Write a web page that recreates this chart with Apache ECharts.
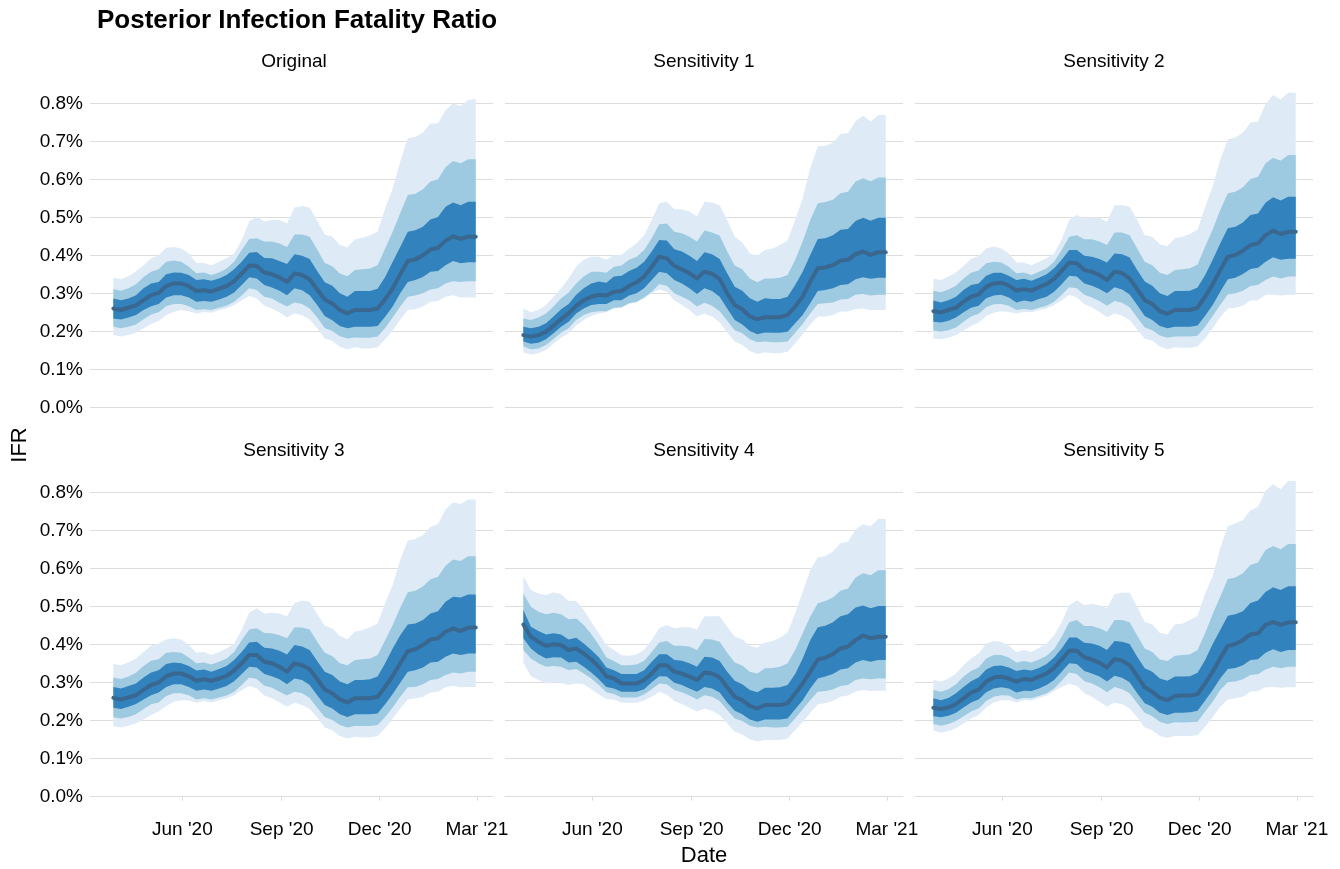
<!DOCTYPE html>
<html>
<head>
<meta charset="utf-8">
<title>Posterior Infection Fatality Ratio</title>
<script src="https://cdn.jsdelivr.net/npm/echarts@6.0.0/dist/echarts.min.js"></script>
<style>
  html, body { margin: 0; padding: 0; background: #fff; }
  #chart { width: 1340px; height: 869px; }
</style>
</head>
<body>
<div id="chart"></div>
<script>
// weekly estimate dates
const weeks = [
  '2020-03-29', '2020-04-05', '2020-04-12', '2020-04-19', '2020-04-26',
  '2020-05-03', '2020-05-10', '2020-05-17', '2020-05-24', '2020-05-31',
  '2020-06-07', '2020-06-14', '2020-06-21', '2020-06-28',
  '2020-07-05', '2020-07-12', '2020-07-19', '2020-07-26',
  '2020-08-02', '2020-08-09', '2020-08-16', '2020-08-23', '2020-08-30',
  '2020-09-06', '2020-09-13', '2020-09-20', '2020-09-27',
  '2020-10-04', '2020-10-11', '2020-10-18', '2020-10-25',
  '2020-11-01', '2020-11-08', '2020-11-15', '2020-11-22', '2020-11-29',
  '2020-12-06', '2020-12-13', '2020-12-20', '2020-12-27',
  '2021-01-03', '2021-01-10', '2021-01-17', '2021-01-24', '2021-01-31',
  '2021-02-07', '2021-02-14', '2021-02-21', '2021-02-28'
];
const tickDates = ['2020-06-01', '2020-09-01', '2020-12-01', '2021-03-01'];
const panelTitles = ['Original', 'Sensitivity 1', 'Sensitivity 2', 'Sensitivity 3', 'Sensitivity 4', 'Sensitivity 5'];

// IFR in percent
const origMed  = [0.260,0.256,0.262,0.268,0.282,0.295,0.301,0.319,0.326,0.326,0.319,0.306,0.308,0.305,0.312,0.319,0.332,0.352,0.373,0.372,0.355,0.350,0.342,0.330,0.352,0.348,0.337,0.310,0.284,0.273,0.256,0.247,0.256,0.256,0.256,0.260,0.284,0.313,0.350,0.385,0.389,0.400,0.415,0.420,0.438,0.450,0.443,0.449,0.449];
const origHi50 = [0.286,0.282,0.286,0.295,0.313,0.326,0.330,0.350,0.355,0.354,0.348,0.335,0.337,0.333,0.339,0.348,0.363,0.383,0.407,0.409,0.393,0.392,0.385,0.377,0.403,0.399,0.390,0.359,0.329,0.320,0.300,0.291,0.306,0.306,0.306,0.312,0.343,0.383,0.422,0.462,0.466,0.475,0.494,0.501,0.528,0.539,0.532,0.541,0.541];
const origLo50 = [0.234,0.231,0.236,0.243,0.256,0.266,0.272,0.289,0.295,0.295,0.289,0.278,0.280,0.278,0.284,0.291,0.302,0.322,0.342,0.339,0.322,0.315,0.307,0.295,0.313,0.308,0.295,0.269,0.240,0.229,0.214,0.208,0.212,0.212,0.212,0.214,0.238,0.265,0.300,0.330,0.335,0.343,0.357,0.359,0.374,0.385,0.379,0.382,0.382];
const origHi80 = [0.311,0.307,0.313,0.324,0.343,0.357,0.363,0.383,0.386,0.383,0.370,0.353,0.355,0.348,0.355,0.365,0.383,0.414,0.443,0.445,0.436,0.436,0.431,0.422,0.455,0.455,0.449,0.415,0.380,0.371,0.352,0.345,0.361,0.363,0.365,0.374,0.418,0.462,0.511,0.559,0.562,0.574,0.594,0.600,0.632,0.648,0.642,0.653,0.653];
const origLo80 = [0.212,0.208,0.212,0.218,0.232,0.244,0.250,0.266,0.272,0.272,0.266,0.256,0.258,0.256,0.262,0.267,0.278,0.294,0.313,0.309,0.291,0.286,0.275,0.265,0.276,0.272,0.260,0.236,0.209,0.201,0.187,0.181,0.184,0.183,0.183,0.186,0.209,0.236,0.265,0.291,0.294,0.300,0.310,0.313,0.326,0.332,0.330,0.332,0.332];
const origHi95 = [0.341,0.337,0.345,0.358,0.374,0.392,0.400,0.420,0.422,0.418,0.405,0.380,0.380,0.374,0.383,0.392,0.405,0.440,0.489,0.502,0.489,0.493,0.493,0.484,0.526,0.530,0.526,0.490,0.455,0.449,0.427,0.421,0.442,0.446,0.453,0.462,0.523,0.576,0.646,0.708,0.711,0.723,0.747,0.747,0.782,0.800,0.793,0.809,0.811];
const origLo95 = [0.190,0.186,0.190,0.196,0.208,0.219,0.227,0.243,0.251,0.256,0.253,0.247,0.251,0.249,0.256,0.260,0.269,0.282,0.293,0.286,0.267,0.260,0.250,0.236,0.247,0.242,0.231,0.208,0.181,0.175,0.159,0.153,0.158,0.155,0.155,0.158,0.179,0.203,0.231,0.256,0.258,0.265,0.278,0.280,0.291,0.295,0.289,0.289,0.289];

const s1Med  = [0.190,0.186,0.190,0.199,0.215,0.232,0.247,0.267,0.282,0.291,0.296,0.294,0.304,0.306,0.319,0.329,0.344,0.370,0.396,0.392,0.372,0.363,0.353,0.339,0.357,0.351,0.338,0.300,0.269,0.258,0.239,0.232,0.237,0.237,0.237,0.243,0.265,0.291,0.331,0.366,0.368,0.374,0.386,0.388,0.403,0.410,0.401,0.408,0.408];
const s1Hi50 = [0.212,0.208,0.212,0.221,0.239,0.258,0.272,0.296,0.313,0.326,0.331,0.328,0.344,0.346,0.359,0.367,0.383,0.410,0.440,0.439,0.416,0.410,0.399,0.385,0.408,0.403,0.390,0.353,0.317,0.307,0.287,0.278,0.287,0.285,0.285,0.291,0.322,0.357,0.401,0.443,0.445,0.453,0.467,0.469,0.490,0.499,0.491,0.499,0.499];
const s1Lo50 = [0.173,0.167,0.170,0.179,0.195,0.212,0.225,0.247,0.260,0.269,0.272,0.272,0.282,0.282,0.294,0.300,0.313,0.335,0.357,0.353,0.335,0.326,0.313,0.298,0.313,0.306,0.291,0.260,0.230,0.218,0.201,0.192,0.197,0.196,0.196,0.199,0.221,0.243,0.274,0.306,0.309,0.313,0.322,0.324,0.337,0.342,0.338,0.341,0.341];
const s1Hi80 = [0.234,0.230,0.236,0.247,0.265,0.287,0.302,0.326,0.344,0.357,0.357,0.354,0.370,0.373,0.388,0.396,0.414,0.445,0.482,0.484,0.462,0.458,0.449,0.436,0.465,0.460,0.452,0.410,0.373,0.363,0.339,0.329,0.339,0.339,0.341,0.348,0.388,0.436,0.493,0.537,0.540,0.546,0.563,0.567,0.594,0.603,0.595,0.605,0.605];
const s1Lo80 = [0.160,0.153,0.155,0.164,0.180,0.196,0.208,0.230,0.243,0.250,0.253,0.253,0.262,0.263,0.274,0.278,0.289,0.304,0.324,0.320,0.300,0.291,0.281,0.265,0.275,0.267,0.253,0.228,0.203,0.195,0.179,0.171,0.173,0.171,0.171,0.173,0.196,0.219,0.247,0.272,0.274,0.276,0.284,0.285,0.296,0.298,0.294,0.296,0.296];
const s1Hi95 = [0.260,0.250,0.256,0.269,0.291,0.313,0.339,0.370,0.388,0.396,0.396,0.388,0.401,0.401,0.417,0.431,0.453,0.493,0.537,0.541,0.521,0.521,0.515,0.502,0.541,0.539,0.532,0.493,0.449,0.434,0.405,0.399,0.414,0.418,0.427,0.439,0.493,0.550,0.629,0.686,0.688,0.696,0.719,0.721,0.753,0.767,0.752,0.769,0.769];
const s1Lo95 = [0.144,0.139,0.142,0.151,0.167,0.183,0.195,0.215,0.230,0.240,0.247,0.250,0.260,0.262,0.272,0.276,0.287,0.300,0.310,0.304,0.281,0.269,0.256,0.239,0.247,0.239,0.224,0.197,0.173,0.164,0.148,0.140,0.145,0.142,0.142,0.146,0.168,0.192,0.218,0.239,0.239,0.243,0.252,0.252,0.259,0.260,0.256,0.256,0.256];

const s2Med  = [0.253,0.250,0.256,0.262,0.278,0.291,0.297,0.317,0.326,0.328,0.320,0.307,0.311,0.307,0.316,0.324,0.338,0.359,0.381,0.379,0.361,0.357,0.348,0.335,0.357,0.353,0.339,0.311,0.282,0.272,0.253,0.246,0.256,0.256,0.256,0.262,0.291,0.324,0.361,0.396,0.401,0.412,0.427,0.431,0.453,0.465,0.456,0.462,0.462];
const s2Hi50 = [0.281,0.276,0.282,0.291,0.309,0.322,0.326,0.346,0.354,0.354,0.346,0.335,0.338,0.333,0.341,0.350,0.366,0.388,0.414,0.414,0.399,0.396,0.390,0.381,0.405,0.403,0.394,0.361,0.331,0.320,0.300,0.293,0.306,0.306,0.307,0.315,0.348,0.388,0.431,0.471,0.475,0.486,0.506,0.510,0.538,0.553,0.544,0.554,0.554];
const s2Lo50 = [0.225,0.223,0.228,0.236,0.250,0.262,0.267,0.287,0.294,0.296,0.289,0.276,0.281,0.278,0.285,0.291,0.304,0.324,0.346,0.344,0.326,0.320,0.311,0.300,0.316,0.310,0.297,0.269,0.240,0.230,0.214,0.208,0.212,0.212,0.212,0.215,0.241,0.269,0.304,0.337,0.341,0.351,0.364,0.367,0.383,0.395,0.388,0.391,0.391];
const s2Hi80 = [0.307,0.303,0.310,0.320,0.339,0.354,0.360,0.379,0.383,0.381,0.370,0.353,0.355,0.348,0.357,0.366,0.383,0.414,0.449,0.453,0.442,0.442,0.436,0.427,0.460,0.460,0.453,0.418,0.383,0.374,0.354,0.348,0.361,0.363,0.366,0.376,0.423,0.468,0.519,0.563,0.567,0.579,0.601,0.607,0.642,0.657,0.649,0.664,0.664];
const s2Lo80 = [0.202,0.199,0.203,0.210,0.225,0.239,0.246,0.263,0.271,0.272,0.267,0.256,0.259,0.256,0.262,0.267,0.278,0.296,0.316,0.313,0.296,0.289,0.280,0.267,0.280,0.275,0.263,0.236,0.210,0.203,0.189,0.183,0.186,0.186,0.186,0.188,0.212,0.240,0.269,0.297,0.300,0.307,0.319,0.322,0.335,0.344,0.339,0.344,0.344];
const s2Hi95 = [0.338,0.335,0.344,0.355,0.372,0.390,0.399,0.418,0.423,0.418,0.405,0.381,0.381,0.374,0.383,0.392,0.405,0.442,0.493,0.506,0.497,0.500,0.499,0.488,0.532,0.532,0.528,0.493,0.453,0.449,0.429,0.424,0.445,0.449,0.456,0.468,0.528,0.581,0.651,0.705,0.710,0.723,0.749,0.752,0.798,0.822,0.810,0.828,0.828];
const s2Lo95 = [0.181,0.179,0.183,0.190,0.202,0.214,0.223,0.240,0.249,0.253,0.251,0.247,0.251,0.250,0.256,0.260,0.269,0.282,0.296,0.289,0.271,0.263,0.251,0.237,0.247,0.241,0.230,0.205,0.181,0.175,0.160,0.153,0.158,0.157,0.157,0.160,0.181,0.208,0.237,0.260,0.262,0.267,0.281,0.282,0.296,0.296,0.294,0.296,0.296];

const s3Med  = [0.260,0.256,0.261,0.267,0.281,0.294,0.300,0.317,0.324,0.324,0.317,0.305,0.309,0.305,0.311,0.318,0.332,0.351,0.373,0.373,0.355,0.351,0.342,0.329,0.351,0.346,0.336,0.309,0.282,0.272,0.256,0.248,0.259,0.259,0.259,0.263,0.289,0.318,0.351,0.383,0.388,0.399,0.414,0.417,0.434,0.443,0.436,0.445,0.445];
const s3Hi50 = [0.289,0.285,0.291,0.298,0.314,0.327,0.333,0.349,0.353,0.351,0.344,0.332,0.335,0.329,0.336,0.344,0.360,0.381,0.406,0.408,0.392,0.390,0.384,0.374,0.399,0.395,0.386,0.357,0.329,0.320,0.303,0.296,0.307,0.307,0.309,0.316,0.351,0.390,0.425,0.453,0.456,0.465,0.482,0.488,0.513,0.526,0.524,0.532,0.532];
const s3Lo50 = [0.234,0.231,0.237,0.244,0.256,0.267,0.274,0.289,0.296,0.296,0.289,0.279,0.282,0.279,0.285,0.291,0.304,0.323,0.342,0.340,0.323,0.317,0.309,0.296,0.311,0.307,0.294,0.267,0.241,0.232,0.217,0.210,0.217,0.217,0.217,0.219,0.243,0.270,0.300,0.329,0.333,0.340,0.353,0.355,0.368,0.377,0.373,0.377,0.377];
const s3Hi80 = [0.314,0.310,0.316,0.326,0.344,0.358,0.362,0.379,0.381,0.379,0.366,0.351,0.353,0.348,0.355,0.364,0.381,0.412,0.440,0.443,0.431,0.430,0.425,0.417,0.446,0.445,0.440,0.408,0.379,0.370,0.351,0.346,0.360,0.362,0.364,0.373,0.412,0.452,0.497,0.538,0.542,0.553,0.572,0.579,0.608,0.624,0.620,0.633,0.633];
const s3Lo80 = [0.209,0.206,0.210,0.217,0.231,0.243,0.248,0.265,0.272,0.272,0.267,0.256,0.259,0.256,0.261,0.266,0.276,0.294,0.314,0.310,0.292,0.287,0.276,0.266,0.276,0.272,0.260,0.234,0.210,0.202,0.189,0.182,0.186,0.186,0.186,0.189,0.210,0.235,0.263,0.288,0.289,0.296,0.307,0.310,0.320,0.327,0.324,0.329,0.329];
const s3Hi95 = [0.349,0.346,0.353,0.364,0.381,0.397,0.403,0.414,0.417,0.414,0.399,0.379,0.381,0.373,0.381,0.390,0.403,0.439,0.484,0.496,0.482,0.484,0.482,0.475,0.510,0.516,0.513,0.481,0.450,0.443,0.423,0.415,0.434,0.439,0.446,0.456,0.509,0.557,0.623,0.674,0.678,0.688,0.710,0.717,0.756,0.774,0.770,0.782,0.782];
const s3Lo95 = [0.186,0.182,0.187,0.193,0.203,0.215,0.224,0.239,0.250,0.254,0.253,0.247,0.252,0.248,0.254,0.259,0.267,0.281,0.291,0.285,0.266,0.259,0.248,0.237,0.247,0.241,0.231,0.209,0.182,0.175,0.160,0.153,0.158,0.156,0.156,0.160,0.180,0.206,0.232,0.256,0.259,0.263,0.274,0.276,0.288,0.292,0.288,0.289,0.289];

const s4Med  = [0.453,0.421,0.408,0.397,0.401,0.399,0.386,0.390,0.377,0.361,0.342,0.317,0.311,0.298,0.298,0.298,0.307,0.324,0.346,0.346,0.329,0.324,0.316,0.307,0.327,0.324,0.314,0.288,0.263,0.254,0.239,0.232,0.241,0.241,0.241,0.246,0.272,0.298,0.329,0.361,0.366,0.375,0.390,0.395,0.412,0.424,0.417,0.421,0.421];
const s4Hi50 = [0.491,0.447,0.436,0.427,0.430,0.427,0.414,0.418,0.403,0.386,0.367,0.340,0.333,0.323,0.323,0.323,0.333,0.355,0.375,0.375,0.360,0.358,0.351,0.342,0.368,0.366,0.357,0.329,0.305,0.296,0.281,0.275,0.287,0.287,0.288,0.294,0.323,0.364,0.412,0.446,0.450,0.459,0.475,0.480,0.498,0.503,0.496,0.502,0.502];
const s4Lo50 = [0.417,0.390,0.374,0.364,0.367,0.366,0.353,0.355,0.342,0.327,0.309,0.289,0.285,0.276,0.276,0.276,0.283,0.301,0.317,0.316,0.300,0.294,0.285,0.276,0.289,0.285,0.274,0.248,0.226,0.217,0.203,0.197,0.203,0.203,0.203,0.206,0.230,0.254,0.285,0.311,0.316,0.323,0.335,0.338,0.353,0.360,0.355,0.360,0.360];
const s4Hi80 = [0.535,0.500,0.487,0.480,0.484,0.480,0.467,0.469,0.452,0.428,0.399,0.366,0.357,0.346,0.346,0.348,0.358,0.381,0.406,0.410,0.397,0.397,0.395,0.386,0.415,0.414,0.408,0.379,0.353,0.345,0.329,0.324,0.338,0.339,0.342,0.351,0.386,0.430,0.474,0.509,0.515,0.524,0.542,0.548,0.577,0.588,0.583,0.596,0.596];
const s4Lo80 = [0.386,0.364,0.351,0.342,0.344,0.342,0.333,0.336,0.324,0.311,0.294,0.275,0.270,0.261,0.261,0.261,0.269,0.283,0.298,0.296,0.281,0.275,0.266,0.256,0.267,0.263,0.252,0.228,0.206,0.199,0.187,0.182,0.184,0.182,0.182,0.184,0.206,0.230,0.254,0.276,0.278,0.282,0.291,0.294,0.307,0.311,0.309,0.311,0.311];
const s4Hi95 = [0.581,0.544,0.535,0.531,0.538,0.533,0.515,0.515,0.491,0.460,0.430,0.399,0.386,0.373,0.371,0.374,0.386,0.412,0.443,0.452,0.443,0.446,0.446,0.440,0.475,0.475,0.475,0.447,0.421,0.414,0.397,0.392,0.406,0.410,0.418,0.432,0.482,0.539,0.596,0.630,0.633,0.645,0.667,0.671,0.703,0.717,0.712,0.731,0.731];
const s4Lo95 = [0.353,0.317,0.307,0.298,0.301,0.300,0.294,0.298,0.296,0.283,0.269,0.257,0.256,0.247,0.247,0.247,0.253,0.263,0.276,0.269,0.252,0.244,0.234,0.224,0.232,0.226,0.215,0.193,0.171,0.164,0.151,0.145,0.149,0.149,0.149,0.153,0.175,0.197,0.221,0.243,0.246,0.252,0.263,0.266,0.276,0.281,0.278,0.279,0.279];

const s5Med  = [0.234,0.231,0.235,0.244,0.259,0.274,0.282,0.303,0.314,0.316,0.311,0.303,0.310,0.307,0.316,0.324,0.339,0.361,0.384,0.384,0.367,0.361,0.353,0.340,0.362,0.358,0.346,0.317,0.288,0.276,0.260,0.254,0.265,0.266,0.266,0.270,0.298,0.329,0.364,0.397,0.402,0.412,0.427,0.430,0.452,0.460,0.452,0.459,0.459];
const s5Hi50 = [0.259,0.254,0.260,0.272,0.289,0.304,0.314,0.335,0.344,0.345,0.340,0.331,0.335,0.332,0.339,0.349,0.366,0.390,0.419,0.419,0.405,0.403,0.397,0.386,0.410,0.408,0.402,0.368,0.338,0.329,0.311,0.305,0.316,0.316,0.317,0.326,0.360,0.402,0.439,0.476,0.480,0.488,0.510,0.516,0.539,0.551,0.544,0.554,0.554];
const s5Lo50 = [0.212,0.209,0.213,0.221,0.235,0.248,0.256,0.275,0.285,0.288,0.285,0.274,0.279,0.278,0.285,0.294,0.307,0.329,0.351,0.349,0.331,0.324,0.316,0.303,0.318,0.313,0.301,0.272,0.246,0.237,0.221,0.215,0.221,0.221,0.222,0.226,0.253,0.281,0.311,0.336,0.339,0.346,0.360,0.362,0.379,0.388,0.381,0.386,0.386];
const s5Hi80 = [0.281,0.276,0.283,0.296,0.316,0.331,0.340,0.364,0.373,0.373,0.366,0.353,0.357,0.353,0.361,0.371,0.389,0.421,0.459,0.465,0.449,0.449,0.443,0.434,0.465,0.465,0.459,0.424,0.390,0.381,0.361,0.357,0.371,0.373,0.375,0.386,0.431,0.481,0.526,0.573,0.577,0.588,0.610,0.616,0.649,0.660,0.651,0.665,0.665];
const s5Lo80 = [0.191,0.187,0.191,0.199,0.212,0.224,0.232,0.252,0.263,0.267,0.266,0.256,0.260,0.259,0.265,0.272,0.285,0.305,0.327,0.323,0.304,0.298,0.288,0.275,0.289,0.283,0.272,0.246,0.221,0.212,0.197,0.191,0.196,0.195,0.196,0.197,0.224,0.250,0.281,0.301,0.303,0.309,0.320,0.322,0.335,0.342,0.338,0.342,0.342];
const s5Hi95 = [0.307,0.303,0.311,0.324,0.346,0.364,0.377,0.403,0.410,0.408,0.397,0.381,0.386,0.381,0.392,0.403,0.424,0.460,0.504,0.517,0.504,0.507,0.504,0.496,0.533,0.537,0.537,0.500,0.460,0.454,0.431,0.427,0.453,0.456,0.465,0.476,0.535,0.581,0.653,0.712,0.719,0.728,0.754,0.763,0.805,0.822,0.809,0.831,0.831];
const s5Lo95 = [0.174,0.168,0.173,0.180,0.193,0.206,0.215,0.235,0.248,0.254,0.254,0.248,0.254,0.253,0.260,0.266,0.278,0.289,0.298,0.291,0.272,0.263,0.250,0.237,0.248,0.243,0.232,0.209,0.182,0.175,0.160,0.155,0.160,0.160,0.160,0.162,0.184,0.209,0.237,0.256,0.259,0.263,0.276,0.278,0.288,0.289,0.287,0.288,0.288];

const panels = [
  { med: origMed, lo50: origLo50, hi50: origHi50, lo80: origLo80, hi80: origHi80, lo95: origLo95, hi95: origHi95 },
  { med: s1Med, lo50: s1Lo50, hi50: s1Hi50, lo80: s1Lo80, hi80: s1Hi80, lo95: s1Lo95, hi95: s1Hi95 },
  { med: s2Med, lo50: s2Lo50, hi50: s2Hi50, lo80: s2Lo80, hi80: s2Hi80, lo95: s2Lo95, hi95: s2Hi95 },
  { med: s3Med, lo50: s3Lo50, hi50: s3Hi50, lo80: s3Lo80, hi80: s3Hi80, lo95: s3Lo95, hi95: s3Hi95 },
  { med: s4Med, lo50: s4Lo50, hi50: s4Hi50, lo80: s4Lo80, hi80: s4Hi80, lo95: s4Lo95, hi95: s4Hi95 },
  { med: s5Med, lo50: s5Lo50, hi50: s5Hi50, lo80: s5Lo80, hi80: s5Hi80, lo95: s5Lo95, hi95: s5Hi95 }
];

const FONT = '"Liberation Sans", Arial, Helvetica, sans-serif';
const GRID_COLOR = '#dddddd';
const MONTHS = ['Jan', 'Feb', 'Mar', 'Apr', 'May', 'Jun', 'Jul', 'Aug', 'Sep', 'Oct', 'Nov', 'Dec'];

function toTs(s) {
  return Date.UTC(+s.slice(0, 4), +s.slice(5, 7) - 1, +s.slice(8, 10));
}
const ts = weeks.map(toTs);
const tickTs = tickDates.map(toTs);
const xMin = Date.UTC(2020, 2, 12);
const xMax = Date.UTC(2021, 2, 16);

function fmtDate(v) {
  const d = new Date(v);
  return MONTHS[d.getUTCMonth()] + " '" + String(d.getUTCFullYear()).slice(2);
}

// one filled band between lo and hi
function band(idx, lo, hi, color, z) {
  return {
    type: 'custom',
    xAxisIndex: idx,
    yAxisIndex: idx,
    z: z,
    silent: true,
    clip: false,
    data: [[ts[0], lo[0]]],
    renderItem: function (params, api) {
      const pts = [];
      for (let i = 0; i < ts.length; i++) pts.push(api.coord([ts[i], hi[i]]));
      for (let i = ts.length - 1; i >= 0; i--) pts.push(api.coord([ts[i], lo[i]]));
      return { type: 'polygon', shape: { points: pts }, style: { fill: color } };
    }
  };
}

const lefts = [95, 505, 915];
const tops = [103.3, 492.7];
const W = 398, H = 304;

const option = {
  animation: false,
  backgroundColor: '#fff',
  grid: [], xAxis: [], yAxis: [], series: [],
  graphic: [
    {
      type: 'text', x: 97, y: 20.5,
      style: { text: 'Posterior Infection Fatality Ratio', font: 'bold 26px ' + FONT, fill: '#000', align: 'left', verticalAlign: 'middle' }
    },
    {
      type: 'text', x: 20, y: 445, rotation: Math.PI / 2,
      style: { text: 'IFR', font: '22px ' + FONT, fill: '#000', align: 'center', verticalAlign: 'middle' }
    },
    {
      type: 'text', x: 704, y: 856,
      style: { text: 'Date', font: '22px ' + FONT, fill: '#000', align: 'center', verticalAlign: 'middle' }
    }
  ]
};

panels.forEach(function (p, k) {
  const col = k % 3;
  const row = Math.floor(k / 3);
  const first = col === 0;
  const bottom = row === 1;

  option.grid.push({ left: lefts[col], top: tops[row], width: W, height: H });

  option.xAxis.push({
    type: 'value',
    gridIndex: k,
    min: xMin,
    max: xMax,
    show: bottom,
    position: 'bottom',
    offset: 16,
    splitLine: { show: false },
    axisLine: { show: true, lineStyle: { color: GRID_COLOR, width: 1 } },
    axisTick: { show: true, customValues: tickTs, length: 4, lineStyle: { color: GRID_COLOR } },
    axisLabel: {
      show: true, customValues: tickTs, formatter: fmtDate,
      fontFamily: FONT, fontSize: 19, color: '#000', margin: 8
    }
  });

  option.yAxis.push({
    type: 'value',
    gridIndex: k,
    min: 0,
    max: 0.8,
    interval: 0.1,
    axisLine: { show: false },
    axisTick: { show: first, length: 5, lineStyle: { color: GRID_COLOR } },
    splitLine: { show: true, lineStyle: { color: GRID_COLOR, width: 1 } },
    axisLabel: {
      show: first,
      formatter: function (v) { return v.toFixed(1) + '%'; },
      fontFamily: FONT, fontSize: 19, color: '#000', margin: 12
    }
  });

  option.graphic.push({
    type: 'text', x: lefts[col] + W / 2, y: row === 0 ? 62 : 451,
    style: { text: panelTitles[k], font: '19px ' + FONT, fill: '#000', align: 'center', verticalAlign: 'middle' }
  });

  option.series.push(band(k, p.lo95, p.hi95, '#deebf7', 2));
  option.series.push(band(k, p.lo80, p.hi80, '#9ecae1', 3));
  option.series.push(band(k, p.lo50, p.hi50, '#3182bd', 4));
  option.series.push({
    type: 'line',
    xAxisIndex: k,
    yAxisIndex: k,
    z: 5,
    silent: true,
    symbol: 'none',
    data: ts.map(function (t, i) { return [t, p.med[i]]; }),
    lineStyle: { color: '#39678f', width: 4, cap: 'round', join: 'round' }
  });
});

const chart = echarts.init(document.getElementById('chart'), null, { renderer: 'canvas' });
chart.setOption(option);
</script>
</body>
</html>
